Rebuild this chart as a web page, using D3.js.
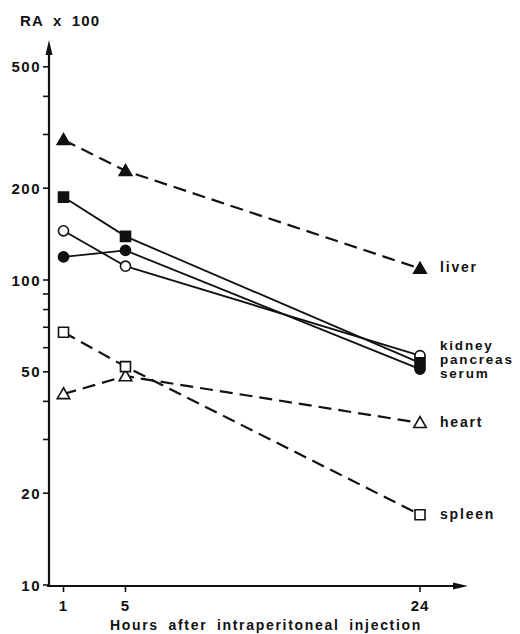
<!DOCTYPE html>
<html>
<head>
<meta charset="utf-8">
<script src="https://cdn.jsdelivr.net/npm/d3@7"></script>
<style>
  body { margin: 0; background: #fff; }
  text { font-family: "Liberation Sans", Arial, sans-serif; font-weight: bold; fill: #111; }
</style>
</head>
<body>
<div id="chart"></div>
<script>
/* global d3 */
// hours after injection
var hours = [1, 5, 24];
var organs = ['liver', 'kidney', 'pancreas', 'serum', 'heart', 'spleen'];
// RA x 100
var liver = [288, 228, 109];
var kidney = [145, 111, 56.5];
var pancreas = [187, 139, 53.5];
var serum = [119, 125, 51];
var heart = [42.3, 48.4, 34];
var spleen = [67.4, 52, 17];
var yTicks = [10, 20, 30, 40, 50, 60, 70, 80, 90, 100, 200, 300, 400, 500];
var yLabels = [10, 20, 50, 100, 200, 500];

var series = [
  { name: 'liver', values: liver, shape: 'tri', filled: true, dashed: true },
  { name: 'kidney', values: kidney, shape: 'circle', filled: false, dashed: false },
  { name: 'pancreas', values: pancreas, shape: 'square', filled: true, dashed: false },
  { name: 'serum', values: serum, shape: 'circle', filled: true, dashed: false },
  { name: 'heart', values: heart, shape: 'tri', filled: false, dashed: true },
  { name: 'spleen', values: spleen, shape: 'square', filled: false, dashed: true }
];

let width = 520, height = 634;
let svg = d3.select('#chart').append('svg')
  .attr('width', width).attr('height', height);

let x = d3.scaleLinear().domain([0, 24]).range([48, 420]);
let y = d3.scaleLog().domain([10, 100]).range([585, 280]);

let ink = '#111';

// y axis with arrow
svg.append('line').attr('x1', 49).attr('x2', 49).attr('y1', 586).attr('y2', 48)
  .attr('stroke', ink).attr('stroke-width', 2.2);
svg.append('path').attr('d', 'M49,40 L45.5,55 L52.5,55 Z').attr('fill', ink);
svg.selectAll('.ytick').data(yTicks).enter().append('line')
  .attr('x1', 43).attr('x2', 49)
  .attr('y1', d => y(d)).attr('y2', d => y(d))
  .attr('stroke', ink).attr('stroke-width', 1.6);
svg.selectAll('.ylab').data(yLabels).enter().append('text')
  .attr('x', 41).attr('y', d => y(d) + 5.5)
  .attr('text-anchor', 'end').attr('font-size', 15)
  .attr('letter-spacing', 1.5)
  .text(d => d);
svg.append('text').attr('x', 20).attr('y', 26).attr('font-size', 15)
  .attr('letter-spacing', 1.2).attr('word-spacing', 4).text('RA x 100');

// x axis with arrow
svg.append('line').attr('x1', 47).attr('x2', 460).attr('y1', 586).attr('y2', 586)
  .attr('stroke', ink).attr('stroke-width', 2.2);
svg.append('path').attr('d', 'M468,586 L453,582.5 L453,589.5 Z').attr('fill', ink);
svg.selectAll('.xtick').data(hours).enter().append('line')
  .attr('x1', d => x(d)).attr('x2', d => x(d))
  .attr('y1', 586).attr('y2', 592)
  .attr('stroke', ink).attr('stroke-width', 1.6);
svg.selectAll('.xlab').data(hours).enter().append('text')
  .attr('x', d => x(d)).attr('y', 611)
  .attr('text-anchor', 'middle').attr('font-size', 15)
  .attr('letter-spacing', 1)
  .text(d => d);
svg.append('text').attr('x', 266).attr('y', 630)
  .attr('text-anchor', 'middle').attr('font-size', 14)
  .attr('letter-spacing', 1.7).attr('word-spacing', 4)
  .text('Hours after intraperitoneal injection');

// lines
let line = d3.line().x((d, i) => x(hours[i])).y(d => y(d));
svg.selectAll('.series').data(series).enter().append('path')
  .attr('d', d => line(d.values))
  .attr('fill', 'none').attr('stroke', ink)
  .attr('stroke-width', d => d.dashed ? 2.2 : 1.8)
  .attr('stroke-dasharray', d => d.dashed ? '13,7' : null);

// markers
let sym = { tri: d3.symbolTriangle, circle: d3.symbolCircle, square: d3.symbolSquare };
let size = { tri: 68, circle: 80, square: 100 };
series.forEach(s => {
  svg.selectAll(null).data(s.values).enter().append('path')
    .attr('transform', (d, i) => 'translate(' + x(hours[i]) + ',' + (y(d) + (s.shape === 'tri' ? 1 : 0)) + ')')
    .attr('d', d3.symbol().type(sym[s.shape]).size(size[s.shape]))
    .attr('fill', s.filled ? ink : '#fff')
    .attr('stroke', ink).attr('stroke-width', 1.6);
});

// right labels
let labelY = { liver: 272, kidney: 350, pancreas: 364, serum: 378, heart: 427, spleen: 519 };
let stacked = ['kidney', 'pancreas', 'serum'];
svg.selectAll('.lab').data(organs).enter().append('text')
  .attr('x', 440).attr('y', d => labelY[d])
  .attr('font-size', d => stacked.indexOf(d) != -1 ? 13.5 : 14)
  .attr('letter-spacing', 1.8)
  .text(d => d);
</script>
</body>
</html>
